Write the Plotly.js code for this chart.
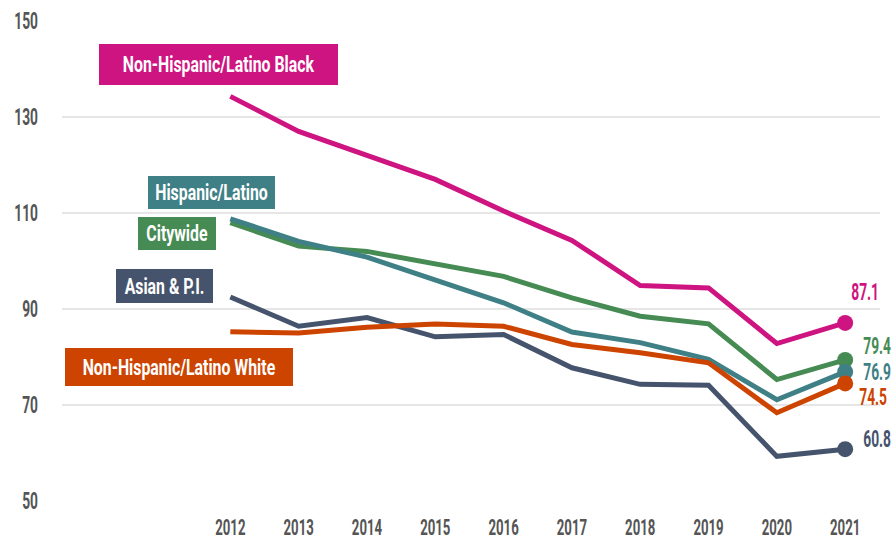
<!DOCTYPE html>
<html>
<head>
<meta charset="utf-8">
<script src="https://cdn.plot.ly/plotly-3.0.1.min.js"></script>
<style>
html,body{margin:0;padding:0;background:#fff;}
#chart{width:893px;height:541px;}
</style>
</head>
<body>
<div id="chart"></div>
<script>
const years = [2012, 2013, 2014, 2015, 2016, 2017, 2018, 2019, 2020, 2021];
const black = [134.3, 127.0, 122.0, 117.0, 110.4, 104.3, 94.9, 94.4, 82.8, 87.1];
const citywide = [108.0, 103.1, 102.0, 99.3, 96.8, 92.3, 88.5, 86.9, 75.3, 79.4];
const hispanic = [108.8, 104.1, 100.8, 96.1, 91.3, 85.2, 83.0, 79.5, 71.1, 76.9];
const white = [85.25, 85.0, 86.2, 86.9, 86.4, 82.6, 80.9, 78.8, 68.4, 74.5];
const asian = [92.5, 86.4, 88.2, 84.2, 84.7, 77.75, 74.3, 74.1, 59.3, 60.8];
const seriesNames = ["Asian & P.I.", "Citywide", "Hispanic/Latino", "Non-Hispanic/Latino White", "Non-Hispanic/Latino Black"];
const yTicks = [50, 70, 90, 110, 130, 150];

const FONT = 'Roboto, "DejaVu Sans", sans-serif';
const CONDENSE = 0.6;
const CONDENSE_BOX = 0.72;
const colors = {
  black: '#CE1480', citywide: '#468B53', hispanic: '#3F8086', white: '#CC4400', asian: '#45546C'
};

const series = [
  {name: seriesNames[0], y: asian, color: colors.asian},
  {name: seriesNames[1], y: citywide, color: colors.citywide},
  {name: seriesNames[2], y: hispanic, color: colors.hispanic},
  {name: seriesNames[3], y: white, color: colors.white},
  {name: seriesNames[4], y: black, color: colors.black}
];
const last = years.length - 1;

const traces = [];
series.forEach(s => {
  traces.push({
    type: 'scatter', mode: 'lines', x: years, y: s.y, name: s.name,
    line: {color: s.color, width: 5}, hoverinfo: 'skip'
  });
  traces.push({
    type: 'scatter', mode: 'markers', x: [years[last]], y: [s.y[last]], name: s.name,
    marker: {color: s.color, size: 16, opacity: 1, line: {width: 0}}, hoverinfo: 'skip', cliponaxis: false
  });
});

function boxLabel(text, x, y, w, h, color) {
  return {
    x: x, y: y, xref: 'x', yref: 'y', text: text, showarrow: false,
    bgcolor: color, width: w, height: h, borderpad: 0, borderwidth: 0,
    font: {family: FONT, size: 22, weight: 700, color: '#ffffff'}, xanchor: 'center', yanchor: 'middle', align: 'center',
    name: 'box'
  };
}
function valueLabel(val, color, xshift, yshift) {
  return {
    x: years[last], y: val, xref: 'x', yref: 'y', text: val.toFixed(1), showarrow: false,
    xanchor: 'center', yanchor: 'middle', xshift: xshift, yshift: yshift,
    font: {family: FONT, size: 23, weight: 700, color: color}, name: 'value'
  };
}

const annotations = [
  boxLabel(seriesNames[4], 2011.83, 140.85, 239, 41, colors.black),
  boxLabel(seriesNames[2], 2011.728, 114.33, 127, 33, colors.hispanic),
  boxLabel(seriesNames[1], 2011.218, 105.73, 78, 33, colors.citywide),
  boxLabel(seriesNames[0], 2011.04, 94.69, 97, 34, colors.asian),
  boxLabel(seriesNames[3], 2011.247, 77.92, 228, 38, colors.white),
  valueLabel(black[last], colors.black, 20, 30),
  valueLabel(citywide[last], colors.citywide, 32, 13),
  valueLabel(hispanic[last], colors.hispanic, 32, -1),
  valueLabel(white[last], colors.white, 28, -14),
  valueLabel(asian[last], colors.asian, 32, 10)
];

const layout = {
  width: 893, height: 541,
  margin: {l: 62, r: 13, t: 21, b: 40, pad: 0},
  paper_bgcolor: '#ffffff', plot_bgcolor: '#ffffff',
  showlegend: false,
  font: {family: FONT},
  xaxis: {
    range: [2009.536, 2021.51], tickmode: 'array', tickvals: years, ticktext: years.map(String),
    showgrid: false, zeroline: false, showline: false, ticks: '',
    tickfont: {family: FONT, size: 22, weight: 700, color: '#555555'}, ticklabelstandoff: 11, fixedrange: true
  },
  yaxis: {
    range: [50, 150], tickmode: 'array', tickvals: yTicks, ticktext: yTicks.map(String),
    showgrid: true, gridcolor: '#e6e6e6', gridwidth: 2, zeroline: false, showline: false, ticks: '',
    tickfont: {family: FONT, size: 23, weight: 700, color: '#555555'}, ticklabelstandoff: 23, fixedrange: true
  },
  annotations: annotations
};

function condense(t, factor) {
  if (!t.textContent.trim()) return;
  const len = t.getComputedTextLength();
  if (len > 0) {
    t.setAttribute('textLength', (len * factor).toFixed(2));
    t.setAttribute('lengthAdjust', 'spacingAndGlyphs');
  }
}

Plotly.newPlot('chart', traces, layout, {displayModeBar: false, staticPlot: true}).then(gd => {
  const annGroups = gd.querySelectorAll('g.annotation');
  const done = new Set();
  annGroups.forEach((g, i) => {
    const isBox = annotations[i] && annotations[i].name === 'box';
    g.querySelectorAll('text').forEach(t => { condense(t, isBox ? CONDENSE_BOX : CONDENSE); done.add(t); });
  });
  gd.querySelectorAll('svg text').forEach(t => { if (!done.has(t)) condense(t, CONDENSE); });
});
</script>
</body>
</html>
